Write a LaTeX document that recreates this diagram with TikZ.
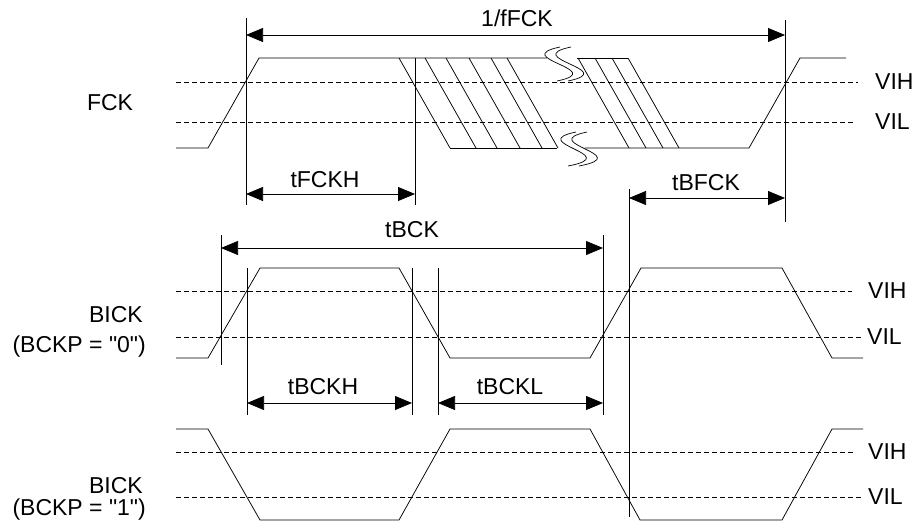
\documentclass[tikz,border=0pt]{standalone}
\usepackage{fontspec}
\newfontfamily\lsans{Liberation Sans}
\usetikzlibrary{arrows.meta}
\begin{document}
\begin{tikzpicture}[x=1pt,y=-1pt,
  sig/.style={line width=0.75pt, line join=miter},
  thr/.style={line width=0.6pt, dash pattern=on 5pt off 3pt},
  refl/.style={line width=0.75pt},
  dimarr/.style={line width=0.75pt, {Triangle[length=17pt,width=14pt]}-{Triangle[length=17pt,width=14pt]}},
  lbl/.style={font=\lsans\fontsize{23}{27}\selectfont, inner sep=0pt},
  squig/.style={line width=0.7pt}
]
\useasboundingbox (0,0) rectangle (917,527);
\fill[white] (0,0) rectangle (917,527);

% ---------------- FCK ----------------
\draw[thr] (176,82) -- (858,82);
\draw[thr] (176,122) -- (853,122);
\draw[sig] (176,148) -- (208,148) -- (259,58) -- (547,58);
\draw[sig] (577,58) -- (628,58);
\draw[sig] (450,148) -- (557,148);
\draw[sig] (585,148) -- (749,148) -- (800,58) -- (846,58);
% hatched transitions
\foreach \a in {399,425,446,469,491,507,578,595,612,628}
  \draw[sig] (\a,58) -- (\a+51,148);
% break marks
\foreach \a in {560,571}
  \draw[squig] (\a,47) .. controls (\a-52,58) and (\a+50,70) .. (\a-3,81);
\foreach \a in {576,587}
  \draw[squig] (\a,132) .. controls (\a-52,143) and (\a+50,155) .. (\a-8,166);

\node[lbl] (lfck) at (110,103) {FCK};
\node[lbl, anchor=west] (fvih) at (875,82) {VIH};
\node[lbl, anchor=west] (fvil) at (875,122) {VIL};

% ---------------- BICK (BCKP=0) ----------------
\draw[thr] (176,291) -- (852,291);
\draw[thr] (176,337) -- (862,337);
\draw[sig] (176,358) -- (208,358) -- (260,268) -- (399,268) -- (450,358)
  -- (590,358) -- (641,268) -- (782,268) -- (832,358) -- (863,358);
\node[lbl, anchor=east] (lb0a) at (143,315) {BICK};
\node[lbl, anchor=east] (lb0b) at (146,347) {(BCKP = "0")};
\node[lbl, anchor=west] (b0vih) at (868,291) {VIH};
\node[lbl, anchor=west] (b0vil) at (867,337) {VIL};

% ---------------- BICK (BCKP=1) ----------------
\draw[thr] (176,452) -- (853,452);
\draw[thr] (176,497) -- (862,497);
\draw[sig] (176,429) -- (208,429) -- (260,520) -- (399,520) -- (450,429)
  -- (590,429) -- (640,520) -- (782,520) -- (832,429) -- (863,429);
\node[lbl, anchor=east] (lb1a) at (143,486) {BICK};
\node[lbl, anchor=east] (lb1b) at (146,510) {(BCKP = "1")};
\node[lbl, anchor=west] (b1vih) at (868,452) {VIH};
\node[lbl, anchor=west] (b1vil) at (868,497) {VIL};

% ---------------- reference verticals ----------------
\coordinate (v1t) at (246,18);  \coordinate (v1b) at (246,205);
\coordinate (v2t) at (415,58);  \coordinate (v2b) at (415,205);
\coordinate (v3t) at (785,20);  \coordinate (v3b) at (785,222);
\coordinate (v4t) at (629,189); \coordinate (v4b) at (629,517);
\coordinate (v5t) at (221,235); \coordinate (v5b) at (221,365);
\coordinate (v6t) at (247,268); \coordinate (v6b) at (247,415);
\coordinate (v7t) at (412,268); \coordinate (v7b) at (412,415);
\coordinate (v8t) at (438,268); \coordinate (v8b) at (438,415);
\coordinate (v9t) at (603,235); \coordinate (v9b) at (603,415);
\foreach \v in {v1,v2,v3,v4,v5,v6,v7,v8,v9}
  \draw[refl] (\v t) -- (\v b);

% ---------------- dimension arrows ----------------
\coordinate (a1l) at (246,35);  \coordinate (a1r) at (785,35);
\coordinate (a2l) at (246,194); \coordinate (a2r) at (415,194);
\coordinate (a3l) at (629,198); \coordinate (a3r) at (785,198);
\coordinate (a4l) at (221,248); \coordinate (a4r) at (603,248);
\coordinate (a5l) at (247,403); \coordinate (a5r) at (412,403);
\coordinate (a6l) at (438,403); \coordinate (a6r) at (603,403);
\draw[dimarr] (a1l) -- (a1r);
\draw[dimarr] (a2l) -- (a2r);
\draw[dimarr] (a3l) -- (a3r);
\draw[dimarr] (a4l) -- (a4r);
\draw[dimarr] (a5l) -- (a5r);
\draw[dimarr] (a6l) -- (a6r);

\node[lbl] (t1) at (517,18) {1/fFCK};
\node[lbl] (t2) at (325,180) {tFCKH};
\node[lbl] (t3) at (706,183) {tBFCK};
\node[lbl] (t4) at (412,230) {tBCK};
\node[lbl] (t5) at (323,387) {tBCKH};
\node[lbl] (t6) at (510,387) {tBCKL};
\end{tikzpicture}
\end{document}
